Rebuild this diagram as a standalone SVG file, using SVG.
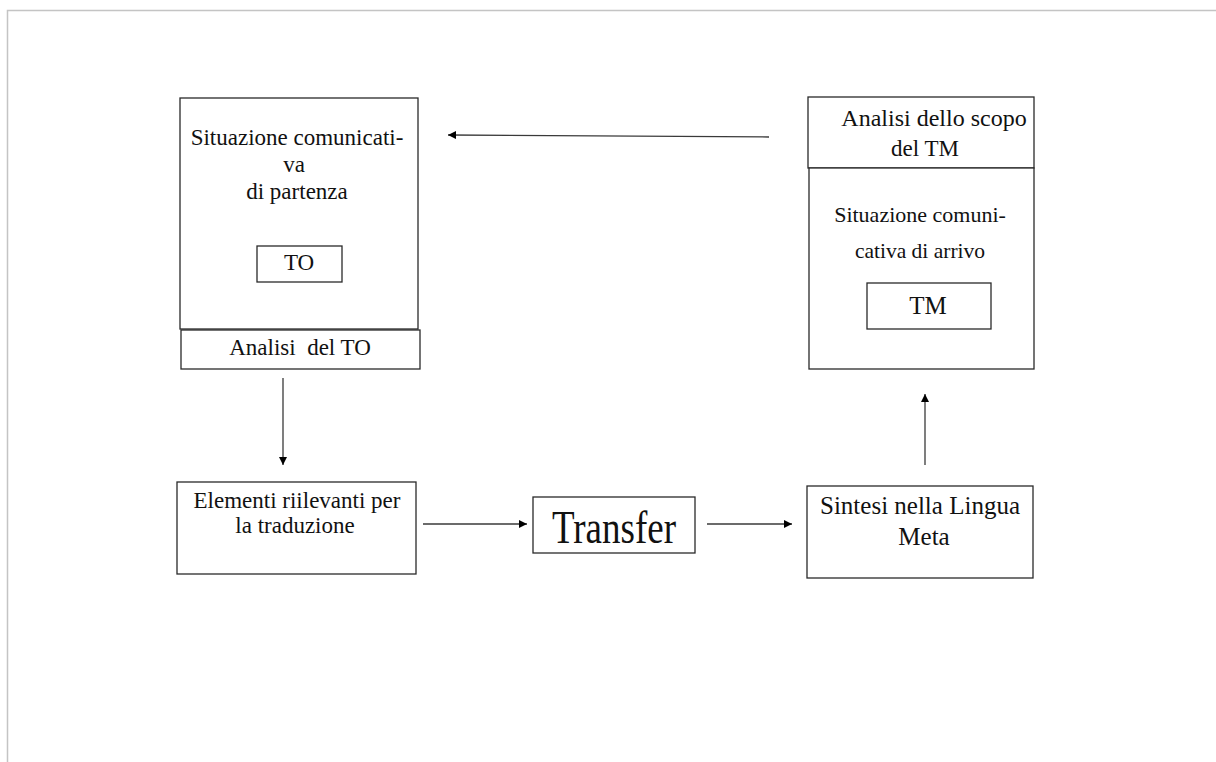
<svg xmlns="http://www.w3.org/2000/svg" width="1216" height="762" viewBox="0 0 1216 762">
  <style>
    .box { fill: #ffffff; stroke: #2a2a2a; stroke-width: 1.3; }
    .lbl { font-family: "Liberation Serif", "Times New Roman", serif; fill: #111111; text-anchor: middle; }
    .wire { stroke: #3a3a3a; stroke-width: 1.3; fill: none; marker-end: url(#head); }
  </style>
  <defs>
    <marker id="head" viewBox="0 0 10 10" refX="10" refY="5" markerWidth="9" markerHeight="8" markerUnits="userSpaceOnUse" orient="auto">
      <path d="M0,0 L10,5 L0,10 z" fill="#000000"/>
    </marker>
  </defs>

  <rect x="0" y="0" width="1216" height="762" fill="#ffffff"/>
  <!-- page frame -->
  <path d="M7.5,762 V10.5 H1216" fill="none" stroke="#c4c4c4" stroke-width="1.5"/>

  <!-- source situation -->
  <g id="situazione-partenza">
    <rect class="box" x="180" y="98" width="238" height="231"/>
    <text class="lbl" x="297" y="145" font-size="23">Situazione comunicati-</text>
    <text class="lbl" x="294" y="172" font-size="23">va</text>
    <text class="lbl" x="297" y="199" font-size="23">di partenza</text>
  </g>
  <g id="to">
    <rect class="box" x="257" y="246" width="85" height="36"/>
    <text class="lbl" x="299" y="270" font-size="23">TO</text>
  </g>
  <g id="analisi-to">
    <rect class="box" x="181" y="330" width="239" height="39"/>
    <text class="lbl" x="300" y="355" font-size="23" xml:space="preserve">Analisi  del TO</text>
  </g>

  <!-- target side -->
  <g id="analisi-scopo">
    <rect class="box" x="808" y="97" width="226" height="71"/>
    <text class="lbl" x="934" y="126" font-size="24">Analisi dello scopo</text>
    <text class="lbl" x="925" y="156" font-size="23">del TM</text>
  </g>
  <g id="situazione-arrivo">
    <rect class="box" x="809" y="168" width="225" height="201"/>
    <text class="lbl" x="920" y="222" font-size="22">Situazione comuni-</text>
    <text class="lbl" x="920" y="258" font-size="21.5">cativa di arrivo</text>
  </g>
  <g id="tm">
    <rect class="box" x="867" y="283" width="124" height="46"/>
    <text class="lbl" x="928" y="314" font-size="25">TM</text>
  </g>

  <!-- bottom row -->
  <g id="elementi">
    <rect class="box" x="177" y="482" width="239" height="92"/>
    <text class="lbl" x="297" y="508" font-size="23">Elementi riilevanti per</text>
    <text class="lbl" x="295" y="533" font-size="23">la traduzione</text>
  </g>
  <g id="transfer">
    <rect class="box" x="533" y="497" width="162" height="56"/>
    <text class="lbl" transform="translate(614,543) scale(1,1.25)" font-size="37">Transfer</text>
  </g>
  <g id="sintesi">
    <rect class="box" x="807" y="486" width="226" height="92"/>
    <text class="lbl" x="920" y="514" font-size="25">Sintesi nella Lingua</text>
    <text class="lbl" x="924" y="545" font-size="25">Meta</text>
  </g>

  <!-- connectors -->
  <g id="connectors">
    <line class="wire" x1="769" y1="137" x2="448" y2="135"/>
    <line class="wire" x1="283" y1="378" x2="283" y2="465"/>
    <line class="wire" x1="423" y1="524" x2="527" y2="524"/>
    <line class="wire" x1="707" y1="524" x2="792" y2="524"/>
    <line class="wire" x1="925" y1="465" x2="925" y2="394"/>
  </g>
</svg>
